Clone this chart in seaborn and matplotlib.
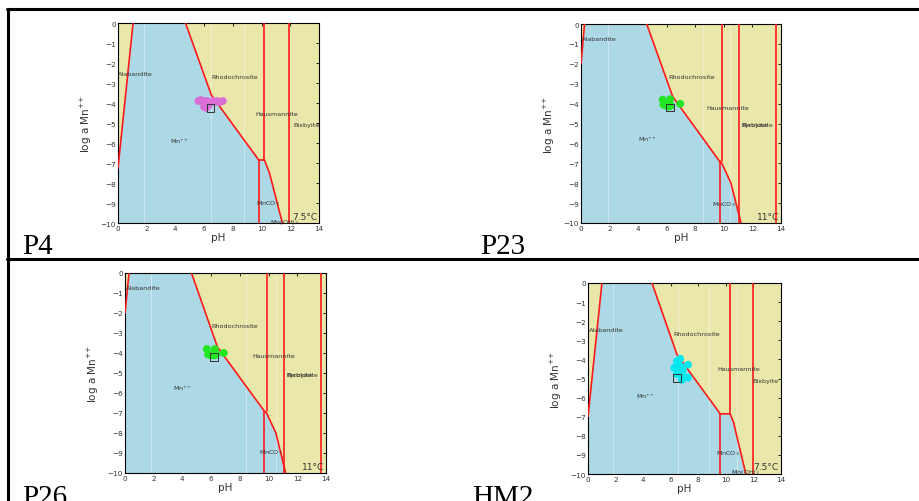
import matplotlib
matplotlib.use("Agg")
import matplotlib.pyplot as plt
import seaborn as sns
import pandas as pd
from matplotlib.lines import Line2D

sns.set_theme(style="white")
plt.rcParams['font.family'] = ['DejaVu Sans']

# ---------------- data ----------------
panel_names = ["P4", "P23", "P26", "HM2"]
temperatures = ["7.5°C", "11°C", "11°C", "7.5°C"]
xticks = [0, 2, 4, 6, 8, 10, 12, 14]
yticks = [0, -1, -2, -3, -4, -5, -6, -7, -8, -9, -10]
MN = "Mn$^{+\\!+}$"

# P4 (7.5 C)
p4_ph = [5.6, 5.75, 5.9, 6.0, 6.1, 6.2, 6.3, 6.45, 6.6, 6.75, 6.9, 7.1, 7.3, 6.0, 6.15, 6.3]
p4_loga = [-3.9, -3.85, -3.95, -3.9, -4.0, -3.9, -4.05, -3.95, -3.9, -3.95, -3.9, -3.95, -3.9, -4.2, -4.25, -4.15]
p4_mean = [6.45, -4.25]
p4_blue_x = [0, 1.05, 4.7, 6.5, 9.8, 10.2, 10.55, 11.45, 0]
p4_blue_y = [-7.2, 0, 0, -3.6, -6.85, -6.85, -7.5, -10, -10]
p4_lines = [
    ([0, 1.05], [-7.25, 0]),
    ([4.7, 6.5, 9.8, 10.2, 10.55, 11.45], [0, -3.6, -6.85, -6.85, -7.5, -10]),
    ([9.8, 9.8], [-6.85, -10]),
    ([10.2, 10.2], [0, -6.85]),
    ([11.9, 11.9], [0, -10]),
]
p4_labels = [("Alabandite", 0.0, -2.5), ("Rhodochrosite", 6.5, -2.65), ("Hausmannite", 9.6, -4.5),
             ("Bixbyite", 12.2, -5.05), (MN, 3.6, -5.9), ("MnCO$_3$", 9.6, -9.0),
             ("Mn(OH)$_2$", 10.6, -9.9)]
p4_faint = [1.8, 6.5, 8.8]

# P23 (11 C)
p23_ph = [5.72, 6.24, 5.77, 5.95, 6.07, 6.2, 6.3, 6.94, 6.15]
p23_loga = [-3.8, -3.78, -4.06, -4.1, -4.05, -4.12, -4.1, -4.01, -4.15]
p23_mean = [6.22, -4.2]
p23_blue_x = [0, 0.25, 4.6, 6.42, 9.7, 9.86, 10.5, 11.2, 0]
p23_blue_y = [-2.0, 0, 0, -3.65, -6.9, -7.0, -8.0, -10, -10]
p23_lines = [
    ([0, 0.25], [-2.0, 0]),
    ([4.6, 6.42, 9.7, 9.86, 10.5, 11.2], [0, -3.65, -6.9, -7.0, -8.0, -10]),
    ([9.7, 9.7], [-6.9, -10]),
    ([9.86, 9.86], [0, -6.9]),
    ([11.05, 11.05], [0, -10]),
    ([13.64, 13.64], [0, -10]),
]
p23_labels = [("Alabandite", 0.05, -0.75), ("Rhodochrosite", 6.1, -2.65), ("Hausmannite", 8.8, -4.2),
              ("Pyrolusite", 11.2, -5.05), ("Bixbyite", 11.2, -5.05), (MN, 4.0, -5.75),
              ("MnCO$_3$", 9.2, -9.0)]
p23_faint = [1.87, 8.53, 10.44]

# P26 (11 C)
p26_ph = [5.7, 6.26, 5.79, 6.0, 6.09, 6.14, 6.37, 6.88, 6.25]
p26_loga = [-3.8, -3.8, -4.08, -4.12, -4.1, -4.03, -4.05, -4.0, -4.12]
p26_mean = [6.2, -4.2]
p26_blue_x = [0, 0.28, 4.63, 6.44, 9.7, 9.86, 10.51, 11.19, 0]
p26_blue_y = [-2.0, 0, 0, -3.7, -6.9, -7.0, -8.0, -10, -10]
p26_lines = [
    ([0, 0.28], [-2.0, 0]),
    ([4.63, 6.44, 9.7, 9.86, 10.51, 11.19], [0, -3.7, -6.9, -7.0, -8.0, -10]),
    ([9.7, 9.7], [-6.9, -10]),
    ([9.86, 9.86], [0, -6.9]),
    ([11.07, 11.07], [0, -10]),
    ([13.63, 13.63], [0, -10]),
]
p26_labels = [("Alabandite", 0.05, -0.75), ("Rhodochrosite", 6.05, -2.65), ("Hausmannite", 8.85, -4.15),
              ("Pyrolusite", 11.25, -5.05), ("Bixbyite", 11.25, -5.05), (MN, 3.35, -5.75),
              ("MnCO$_3$", 9.3, -8.95)]
p26_faint = [1.84, 8.45, 10.5]

# HM2 (7.5 C)
hm2_ph = [6.69, 6.45, 6.26, 6.57, 6.88, 7.25, 6.45, 6.81, 7.25, 6.81, 6.57, 6.7]
hm2_loga = [-3.97, -4.09, -4.44, -4.49, -4.58, -4.28, -4.76, -4.81, -4.95, -5.07, -4.67, -4.35]
hm2_mean = [6.45, -4.96]
hm2_blue_x = [0, 1.01, 4.64, 6.45, 9.59, 10.31, 10.56, 11.45, 0]
hm2_blue_y = [-7.0, 0, 0, -3.74, -6.85, -6.85, -7.3, -10, -10]
hm2_lines = [
    ([0, 1.01], [-7.0, 0]),
    ([4.64, 6.45, 9.59, 10.31, 10.56, 11.45], [0, -3.74, -6.85, -6.85, -7.3, -10]),
    ([9.59, 9.59], [-6.85, -10]),
    ([10.31, 10.31], [0, -6.85]),
    ([11.96, 11.96], [0, -10]),
]
hm2_labels = [("Alabandite", 0.05, -2.45), ("Rhodochrosite", 6.2, -2.65), ("Hausmannite", 9.4, -4.5),
              ("Bixbyite", 11.95, -5.1), (MN, 3.5, -5.9), ("MnCO$_3$", 9.3, -8.9),
              ("Mn(OH)$_2$", 10.4, -9.85)]
hm2_faint = [1.8, 6.5, 8.8, 10.8]

temp_pos = [(12.1, -9.65), (12.3, -9.65), (12.3, -9.65), (12.0, -9.6)]
point_colors = ["#da70d6", "#22e622", "#22e622", "#00e8ee"]

panels = [
    (p4_ph, p4_loga, p4_mean, p4_blue_x, p4_blue_y, p4_lines, p4_labels, p4_faint),
    (p23_ph, p23_loga, p23_mean, p23_blue_x, p23_blue_y, p23_lines, p23_labels, p23_faint),
    (p26_ph, p26_loga, p26_mean, p26_blue_x, p26_blue_y, p26_lines, p26_labels, p26_faint),
    (hm2_ph, hm2_loga, hm2_mean, hm2_blue_x, hm2_blue_y, hm2_lines, hm2_labels, hm2_faint),
]

# ---------------- layout ----------------
W, H = 919, 502
fig = plt.figure(figsize=(W / 100, H / 100), dpi=100)
fig.patch.set_facecolor("white")

# axes boxes in pixels: left, top, right, bottom
boxes = [(118, 24, 319, 224), (581, 25, 781, 224), (125, 274, 326, 474), (588, 284, 781, 475)]
name_pos = [(22, 254), (480, 254), (22, 505), (472, 505)]

YELLOW = "#e9e7aa"
BLUE = "#add8e6"
RED = "#ff1a1a"
TXT = "#333333"

for i, (ph, la, mean, bx, by, lines, labels, faint) in enumerate(panels):
    l, t, r, b = boxes[i]
    ax = fig.add_axes([l / W, 1 - b / H, (r - l) / W, (b - t) / H])
    ax.set_facecolor(YELLOW)
    ax.fill(bx, by, color=BLUE, lw=0, zorder=1)
    for fx in faint:
        ax.axvline(fx, color="white", lw=0.6, alpha=0.45, zorder=2)
    for xs, ys in lines:
        ax.plot(xs, ys, color=RED, lw=1.2, zorder=3, solid_joinstyle="miter")
    for txt, x, y in labels:
        ax.text(x, y, txt, fontsize=4.6, color=TXT, ha="left", va="center", zorder=4)
    tx, ty = temp_pos[i]
    ax.text(tx, ty, temperatures[i], fontsize=6.5, color=TXT, ha="left", va="center", zorder=4)
    df = pd.DataFrame({"pH": ph, "loga": la})
    sns.scatterplot(data=df, x="pH", y="loga", ax=ax, color=point_colors[i], s=32,
                    edgecolor="none", zorder=5, legend=False)
    ax.scatter([mean[0]], [mean[1]], marker="s", s=30, facecolor="none",
               edgecolor="#333333", linewidth=0.7, zorder=6)
    ax.set_xlim(0, 14)
    ax.set_ylim(-10, 0)
    ax.set_xticks(xticks)
    ax.set_yticks(yticks)
    ax.tick_params(direction="in", length=2.5, width=0.6, labelsize=5.2, colors="black",
                   labelcolor=TXT, top=True, right=True, pad=1.5)
    for s in ax.spines.values():
        s.set_color("black")
        s.set_linewidth(0.8)
        s.set_visible(True)
    ax.set_xlabel("pH", fontsize=7.5, color=TXT, labelpad=1)
    ax.set_ylabel("log a " + MN, fontsize=7.5, color=TXT, labelpad=5)
    nx, ny = name_pos[i]
    fig.text(nx / W, 1 - ny / H, panel_names[i], fontsize=21, family="Liberation Serif",
             color="black", ha="left", va="baseline")

# table borders
def hline(y, x0, x1):
    fig.add_artist(Line2D([x0 / W, x1 / W], [1 - y / H, 1 - y / H], color="black", lw=2.2,
                          transform=fig.transFigure))

hline(10, 7, 919)
hline(260, 7, 919)
fig.add_artist(Line2D([8 / W, 8 / W], [1 - 10 / H, 0], color="black", lw=2.2,
                      transform=fig.transFigure))

fig.savefig("out.png", dpi=100)
